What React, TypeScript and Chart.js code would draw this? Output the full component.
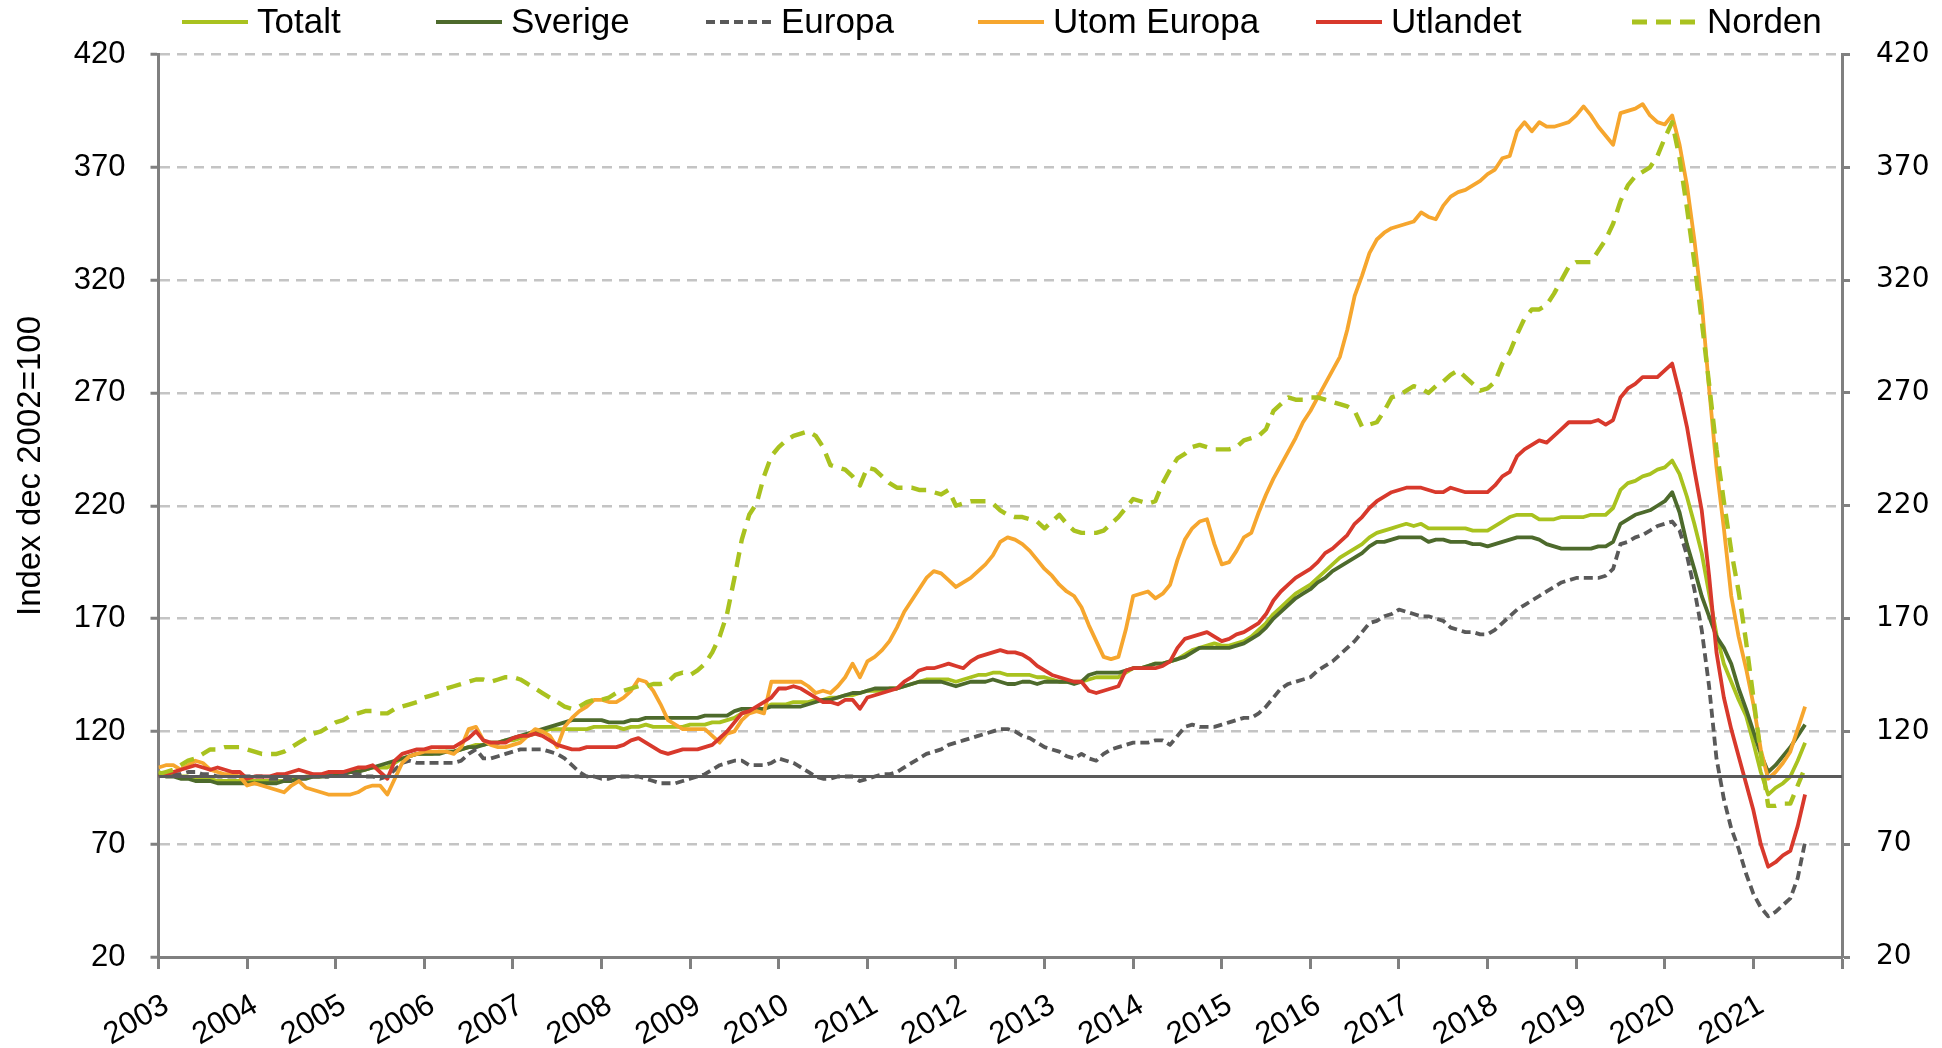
import React, { useEffect, useRef } from 'react';
import { Chart, registerables } from 'chart.js';

Chart.register(...registerables);

// ---------- DATA ----------
const START_YEAR = 2003;
const END_YEAR = 2022;
const yearTicks = [2003, 2004, 2005, 2006, 2007, 2008, 2009, 2010, 2011, 2012, 2013, 2014, 2015, 2016, 2017, 2018, 2019, 2020, 2021, 2022];
const yTickValues = [20, 70, 120, 170, 220, 270, 320, 370, 420];
const yTitle = 'Index dec 2002=100';
const baseLevel = 100;

const seriesNames = ['Totalt', 'Sverige', 'Europa', 'Utom Europa', 'Utlandet', 'Norden'];

// monthly values, Jan 2003 .. Aug 2021
const totalt = [
  102, 101, 101, 100, 100, 99, 99, 99, 98, 98, 98, 98,
  98, 98, 98, 98, 98, 98, 99, 99, 100, 100, 100, 101,
  101, 101, 102, 103, 103, 104, 104, 104, 106, 108, 109, 110,
  110, 110, 111, 111, 111, 112, 113, 114, 114, 115, 115, 116,
  116, 117, 118, 119, 120, 121, 121, 121, 121, 121, 121, 122,
  122, 122, 122, 121, 122, 122, 123, 122, 122, 122, 122, 122,
  123, 123, 123, 124, 124, 125, 126, 128, 129, 129, 130, 132,
  132, 132, 133, 133, 133, 134, 134, 135, 135, 136, 136, 137,
  138, 138, 138, 139, 139, 140, 141, 142, 143, 143, 143, 143,
  142, 143, 144, 145, 145, 146, 146, 145, 145, 145, 145, 144,
  144, 143, 142, 142, 142, 142, 143, 144, 144, 144, 144, 146,
  148, 148, 149, 150, 150, 151, 152, 154, 156, 157, 158, 159,
  158, 158, 159, 160, 162, 165, 168, 172, 175, 178, 181, 183,
  185, 188, 191, 194, 197, 199, 201, 203, 206, 208, 209, 210,
  211, 212, 211, 212, 210, 210, 210, 210, 210, 210, 209, 209,
  209, 211, 213, 215, 216, 216, 216, 214, 214, 214, 215, 215,
  215, 215, 216, 216, 216, 219, 227, 230, 231, 233, 234, 236,
  237, 240, 234, 224, 212, 199, 181, 163, 150, 142, 134, 127,
  115, 102, 92, 95, 97, 100, 107, 115,
];

const sverige = [
  101, 100, 100, 99, 99, 98, 98, 98, 97, 97, 97, 97,
  97, 97, 97, 97, 97, 98, 98, 99, 99, 100, 100, 100,
  101, 101, 102, 102, 103, 104, 105, 106, 107, 108, 109, 110,
  110, 110, 110, 111, 111, 112, 113, 113, 114, 115, 115, 116,
  117, 118, 119, 120, 121, 122, 123, 124, 125, 125, 125, 125,
  125, 124, 124, 124, 125, 125, 126, 126, 126, 126, 126, 126,
  126, 126, 127, 127, 127, 127, 129, 130, 130, 130, 130, 131,
  131, 131, 131, 131, 132, 133, 134, 134, 135, 136, 137, 137,
  138, 139, 139, 139, 139, 140, 141, 142, 142, 142, 142, 141,
  140, 141, 142, 142, 142, 143, 142, 141, 141, 142, 142, 141,
  142, 142, 142, 142, 141, 142, 145, 146, 146, 146, 146, 147,
  148, 148, 149, 150, 150, 151, 152, 153, 155, 157, 157, 157,
  157, 157, 158, 159, 161, 163, 166, 170, 173, 176, 179, 181,
  183, 186, 188, 191, 193, 195, 197, 199, 202, 204, 204, 205,
  206, 206, 206, 206, 204, 205, 205, 204, 204, 204, 203, 203,
  202, 203, 204, 205, 206, 206, 206, 205, 203, 202, 201, 201,
  201, 201, 201, 202, 202, 204, 212, 214, 216, 217, 218, 220,
  222, 226, 217, 203, 192, 180, 171, 162, 157, 150, 139, 130,
  120, 110, 102, 105, 109, 113, 118, 123,
];

const europa = [
  101, 101, 101, 101, 102, 102, 101, 101, 100, 100, 100, 100,
  100, 100, 100, 99, 99, 99, 99, 99, 100, 100, 100, 100,
  101, 101, 101, 101, 100, 100, 99, 100, 103, 106, 107, 106,
  106, 106, 106, 106, 106, 107, 110, 112, 108, 108, 109, 110,
  111, 112, 112, 112, 112, 111, 110, 108, 105, 102, 100, 100,
  99, 99, 100, 100, 100, 100, 99, 98, 97, 97, 97, 98,
  99, 100, 101, 103, 105, 106, 107, 107, 105, 105, 105, 106,
  108, 107, 106, 104, 102, 100, 99, 99, 100, 100, 100, 98,
  99, 100, 101, 101, 102, 104, 106, 108, 110, 111, 112, 114,
  115, 116, 117, 118, 119, 120, 121, 121, 120, 118, 117, 115,
  113, 112, 111, 109, 108, 110, 108, 107, 110, 112, 113, 114,
  115, 115, 115, 116, 116, 114, 118, 122, 123, 122, 122, 122,
  123, 124, 125, 126, 126, 128, 131, 135, 139, 141, 142, 143,
  144, 147, 149, 151, 154, 157, 160, 164, 168, 169, 171, 172,
  174, 173, 172, 171, 171, 170, 169, 166, 165, 164, 164, 163,
  163, 165, 168, 171, 174, 176, 178, 180, 182, 184, 186, 187,
  188, 188, 188, 188, 189, 192, 203, 204, 206, 207, 209, 211,
  212, 213, 209, 198, 183, 165, 140, 108, 90, 77, 68, 57,
  48, 42, 38, 40, 43, 46, 55, 71,
];

const utomEuropa = [
  104, 105, 105, 103, 105, 107, 106, 103, 102, 101, 101, 100,
  96, 97, 96, 95, 94, 93, 96, 98, 95, 94, 93, 92,
  92, 92, 92, 93, 95, 96, 96, 92, 99, 106, 109, 110,
  111, 111, 111, 111, 110, 113, 121, 122, 116, 114, 113, 113,
  114, 115, 118, 121, 120, 118, 113, 122, 126, 129, 131, 134,
  134, 133, 133, 135, 138, 143, 142, 138, 132, 125, 123, 121,
  121, 121, 121, 118, 115, 119, 120, 125, 128, 129, 128, 142,
  142, 142, 142, 142, 140, 137, 138, 137, 140, 144, 150, 144,
  151, 153, 156, 160, 166, 173, 178, 183, 188, 191, 190, 187,
  184, 186, 188, 191, 194, 198, 204, 206, 205, 203, 200, 196,
  192, 189, 185, 182, 180, 175, 167, 160, 153, 152, 153, 165,
  180, 181, 182, 179, 181, 185, 196, 205, 210, 213, 214, 203,
  194, 195, 200, 206, 208, 217, 225, 232, 238, 244, 250, 257,
  262, 268, 274, 280, 286, 298, 313, 322, 332, 338, 341, 343,
  344, 345, 346, 350, 348, 347, 353, 357, 359, 360, 362, 364,
  367, 369, 374, 375, 386, 390, 386, 390, 388, 388, 389, 390,
  393, 397, 393, 388, 384, 380, 394, 395, 396, 398, 393, 390,
  389, 393, 380, 362, 338, 310, 272, 237, 210, 180, 162, 148,
  132, 112, 99, 102, 106, 111, 121, 131,
];

const utlandet = [
  100, 101, 102, 103, 104, 105, 104, 103, 104, 103, 102, 102,
  99, 100, 100, 100, 101, 101, 102, 103, 102, 101, 101, 102,
  102, 102, 103, 104, 104, 105, 102, 99, 107, 110, 111, 112,
  112, 113, 113, 113, 113, 115, 117, 120, 116, 115, 115, 115,
  117, 118, 118, 119, 118, 116, 114, 113, 112, 112, 113, 113,
  113, 113, 113, 114, 116, 117, 115, 113, 111, 110, 111, 112,
  112, 112, 113, 114, 117, 120, 124, 128, 129, 131, 133, 135,
  139, 139, 140, 139, 137, 135, 133, 133, 132, 134, 134, 130,
  135, 136, 137, 138, 139, 142, 144, 147, 148, 148, 149, 150,
  149, 148, 151, 153, 154, 155, 156, 155, 155, 154, 152, 149,
  147, 145, 144, 143, 142, 142, 138, 137, 138, 139, 140, 147,
  148, 148, 148, 148, 149, 151, 157, 161, 162, 163, 164, 162,
  160, 161, 163, 164, 166, 168, 172, 178, 182, 185, 188, 190,
  192, 195, 199, 201, 204, 207, 212, 215, 219, 222, 224, 226,
  227, 228, 228, 228, 227, 226, 226, 228, 227, 226, 226, 226,
  226, 229, 233, 235, 242, 245, 247, 249, 248, 251, 254, 257,
  257, 257, 257, 258, 256, 258, 268, 272, 274, 277, 277, 277,
  280, 283, 270, 255, 236, 218, 189, 155, 135, 121, 109, 97,
  85, 70, 60, 62, 65, 67, 78, 92,
];

const norden = [
  101, 102, 103, 105, 107, 108, 110, 112, 112, 113, 113, 113,
  112, 111, 110, 110, 110, 111, 113, 115, 117, 119, 120, 122,
  124, 125, 127, 128, 129, 129, 128, 128, 130, 131, 132, 133,
  135, 136, 137, 139, 140, 141, 142, 143, 143, 142, 143, 144,
  144, 143, 141, 139, 137, 135, 133, 131, 130, 131, 133, 134,
  134, 135, 137, 138, 139, 140, 140, 141, 141, 142, 145, 146,
  145, 147, 150, 155, 162, 172, 188, 205, 216, 221, 233, 242,
  246, 249, 251, 252, 253, 251, 246, 238, 237, 236, 233, 229,
  237, 236, 233, 230, 228, 228, 228, 227, 227, 226, 225, 227,
  220, 221, 222, 222, 222, 221, 218, 216, 215, 215, 214, 213,
  210, 213, 216, 212, 209, 208, 208, 208, 209, 212, 215, 219,
  223, 222, 221, 222, 230, 236, 241, 243, 246, 247, 246, 245,
  245, 245, 246, 249, 250, 251, 254, 262, 265, 268, 267, 267,
  268, 268, 267, 266, 265, 264, 262, 255, 256, 257, 262, 268,
  269, 271, 273, 272, 270, 273, 275, 278, 280, 277, 274, 271,
  272, 275, 283, 288, 296, 303, 307, 307, 309, 314, 320, 326,
  328, 328, 328, 333, 338, 345, 355, 362, 366, 368, 370, 375,
  383, 390, 374, 352, 328, 302, 274, 245, 222, 200, 182, 160,
  135, 110, 87, 87, 88, 88, 96, 104,
];

const seriesValues = [totalt, sverige, europa, utomEuropa, utlandet, norden];

// ---------- STYLES ----------
const seriesStyles = [
  { color: '#a9c21f', width: 3.8, dash: [] as number[] },
  { color: '#4d6a2c', width: 3.8, dash: [] as number[] },
  { color: '#595959', width: 3.8, dash: [9, 5] },
  { color: '#f6a62e', width: 3.8, dash: [] as number[] },
  { color: '#d8392c', width: 3.8, dash: [] as number[] },
  { color: '#a9c21f', width: 4.4, dash: [15, 9] },
];
const drawOrder = [5, 4, 3, 2, 1, 0];

const TEXT_FONT = "'Liberation Sans', Arial, sans-serif";
const NARROW_FONT = "'Liberation Sans Narrow', 'Arial Narrow', 'Liberation Sans', sans-serif";
const RIGHT_FONT = "'DejaVu Sans', Verdana, sans-serif";
const AXIS_GREY = '#808080';
const GRID_GREY = '#c4c4c4';

const LEGEND_LINE_X = [182, 436, 706, 978, 1316, 1632];
const LEGEND_LINE_LEN = 66;
const LEGEND_Y = 22;

const decorPlugin = {
  id: 'decor',
  afterDraw(chart: any) {
    const ctx = chart.ctx;
    ctx.save();
    // legend
    ctx.font = `35px ${TEXT_FONT}`;
    ctx.textBaseline = 'middle';
    ctx.textAlign = 'left';
    seriesNames.forEach((name, i) => {
      const st = seriesStyles[i];
      const x0 = LEGEND_LINE_X[i];
      ctx.save();
      ctx.strokeStyle = st.color;
      ctx.lineWidth = st.width + 0.4;
      ctx.setLineDash(st.dash);
      ctx.beginPath();
      ctx.moveTo(x0, LEGEND_Y);
      ctx.lineTo(x0 + LEGEND_LINE_LEN, LEGEND_Y);
      ctx.stroke();
      ctx.restore();
      ctx.fillStyle = '#000';
      ctx.fillText(name, x0 + LEGEND_LINE_LEN + 9, LEGEND_Y + 1);
    });
    // y title
    ctx.translate(31, 466);
    ctx.rotate(-Math.PI / 2);
    ctx.textAlign = 'center';
    ctx.textBaseline = 'middle';
    ctx.fillStyle = '#000';
    ctx.font = `33px ${TEXT_FONT}`;
    ctx.fillText(yTitle, 0, 0);
    ctx.restore();
  },
};

export default function App() {
  const canvasRef = useRef<HTMLCanvasElement | null>(null);

  useEffect(() => {
    document.body.style.margin = '0';
    document.body.style.overflow = 'hidden';
    const canvas = canvasRef.current;
    if (!canvas) return;

    const datasets: any[] = seriesValues.map((vals, i) => ({
      label: seriesNames[i],
      data: vals.map((v, k) => ({ x: START_YEAR + k / 12, y: v })),
      borderColor: seriesStyles[i].color,
      backgroundColor: seriesStyles[i].color,
      borderWidth: seriesStyles[i].width,
      borderDash: seriesStyles[i].dash,
      pointRadius: 0,
      tension: 0,
      fill: false,
      order: drawOrder[i],
      borderJoinStyle: 'round',
      borderCapStyle: 'butt',
    }));
    datasets.push({
      label: 'base',
      data: [
        { x: START_YEAR, y: baseLevel },
        { x: END_YEAR, y: baseLevel },
      ],
      borderColor: '#5a5a5a',
      borderWidth: 3,
      pointRadius: 0,
      fill: false,
      order: -1,
    });

    const chart = new Chart(canvas, {
      type: 'line',
      data: { datasets },
      plugins: [decorPlugin],
      options: {
        responsive: false,
        animation: false,
        events: [],
        layout: { padding: { top: 54.5, left: 0, right: 0, bottom: 0 } },
        plugins: { legend: { display: false }, tooltip: { enabled: false }, title: { display: false } },
        scales: {
          x: {
            type: 'linear',
            min: START_YEAR,
            max: END_YEAR,
            afterBuildTicks: (s: any) => {
              s.ticks = yearTicks.map((v) => ({ value: v }));
            },
            ticks: {
              autoSkip: false,
              minRotation: 30,
              maxRotation: 30,
              padding: 18,
              labelOffset: 8,
              color: '#000',
              font: { family: NARROW_FONT, size: 31 },
              callback: (v: any) => (Number(v) < END_YEAR ? String(v) : ''),
            },
            grid: {
              drawOnChartArea: false,
              drawTicks: true,
              tickLength: 12,
              tickWidth: 3,
              tickColor: AXIS_GREY,
              color: AXIS_GREY,
            },
            border: { color: AXIS_GREY, width: 3 },
            afterFit: (s: any) => {
              s.height = 91;
            },
          },
          y: {
            position: 'left',
            min: 20,
            max: 420,
            afterBuildTicks: (s: any) => {
              s.ticks = yTickValues.map((v) => ({ value: v }));
            },
            ticks: {
              padding: 25,
              color: '#000',
              font: { family: NARROW_FONT, size: 31 },
            },
            grid: {
              color: GRID_GREY,
              lineWidth: 2.5,
              tickColor: AXIS_GREY,
              tickLength: 8,
              tickWidth: 3,
            },
            border: { color: AXIS_GREY, width: 3, dash: [10, 7] },
            afterFit: (s: any) => {
              s.width = 158.5;
            },
          },
          y2: {
            position: 'right',
            min: 20,
            max: 420,
            afterBuildTicks: (s: any) => {
              s.ticks = yTickValues.map((v) => ({ value: v }));
            },
            ticks: {
              padding: 26,
              color: '#000',
              font: { family: RIGHT_FONT, size: 28 },
            },
            grid: {
              drawOnChartArea: false,
              tickColor: AXIS_GREY,
              tickLength: 8,
              tickWidth: 3,
            },
            border: { color: AXIS_GREY, width: 3 },
            afterFit: (s: any) => {
              s.width = 100;
            },
          },
        },
      } as any,
    });

    return () => {
      chart.destroy();
    };
  }, []);

  return (
    <div style={{ width: 1942, height: 1048 }}>
      <canvas ref={canvasRef} width={1942} height={1048} style={{ display: 'block' }} />
    </div>
  );
}
